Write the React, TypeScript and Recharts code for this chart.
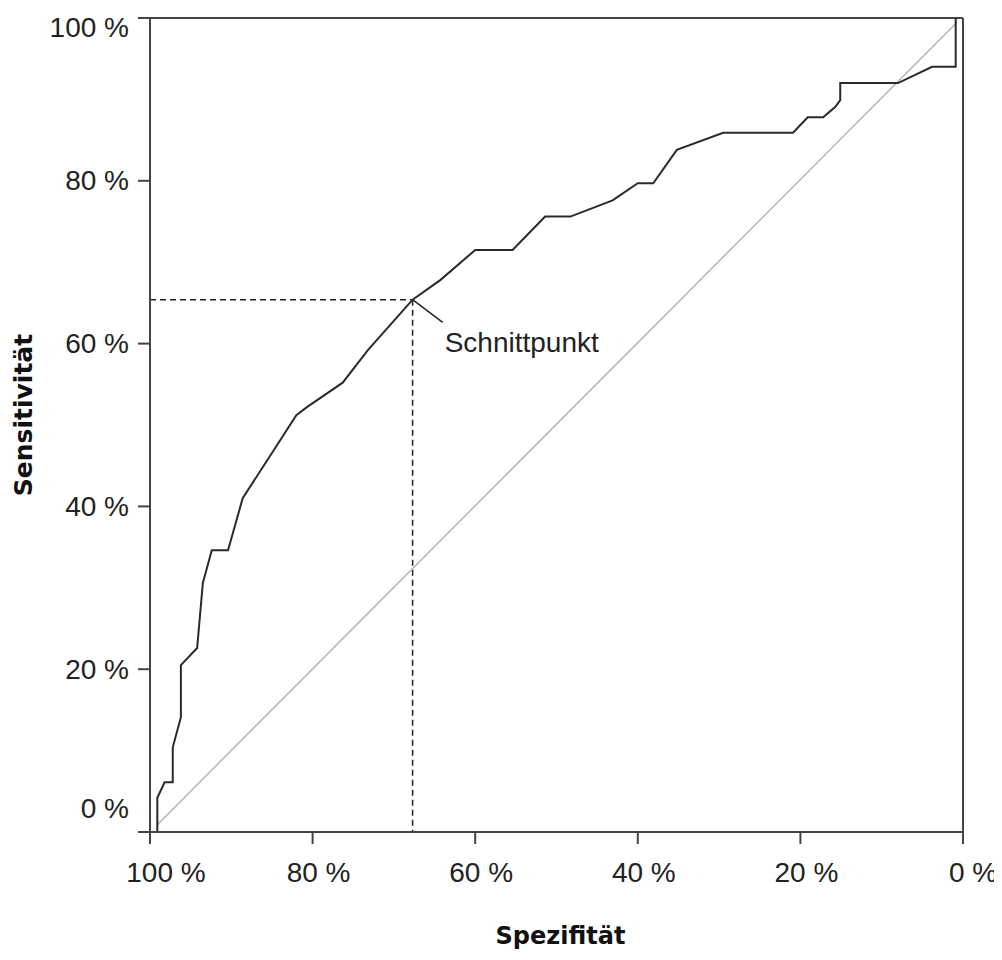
import { ComposedChart, Line, XAxis, YAxis, ReferenceLine, Scatter, Label } from 'recharts';

// ROC curve: spec = Spezifität (%), sens = Sensitivität (%)
const rocSpec = [99.1, 99.1, 98.2, 97.2, 97.2, 96.2, 96.2, 94.2, 93.5, 92.4, 90.4, 88.6, 82.0, 80.7, 76.3, 73.2, 67.7, 64.3, 60.0, 55.4, 51.4, 48.3, 43.1, 40.0, 38.1, 35.2, 29.5, 20.9, 19.1, 17.2, 15.7, 15.1, 15.1, 8.0, 3.8, 0.9, 0.9];
const rocSens = [0, 4.2, 6.1, 6.1, 10.4, 14.1, 20.5, 22.6, 30.6, 34.6, 34.6, 41.0, 51.2, 52.2, 55.2, 59.2, 65.4, 67.8, 71.5, 71.5, 75.6, 75.6, 77.6, 79.7, 79.7, 83.8, 85.9, 85.9, 87.8, 87.8, 89.1, 89.9, 92.0, 92.0, 94.0, 94.0, 100];

// reference diagonal
const diagSpec = [99.1, 0.7];
const diagSens = [0.9, 99.5];

// cut point
const cutSpec = 67.7;
const cutSens = 65.4;
const noteSpec = 64.0;
const noteSens = 62.6;
const noteText = 'Schnittpunkt';

const ticks = [0, 20, 40, 60, 80, 100];

const rocData = rocSpec.map((s, i) => ({ spec: s, sens: rocSens[i] }));
const diagData = diagSpec.map((s, i) => ({ spec: s, sens: diagSens[i] }));
const noteData = [{ spec: noteSpec, sens: noteSens }];

const tickFont = '"Liberation Sans", Arial, sans-serif';
const titleFont = '"DejaVu Sans", Verdana, sans-serif';

const YTick = (props: any) => {
  const { x, y, payload } = props;
  const shift = payload.value === 100 ? 9 : payload.value === 0 ? -24 : 0;
  return (
    <text x={x} y={y + shift} textAnchor="end" dominantBaseline="central" fontSize={28} fontFamily={tickFont} fill="#222">
      {`${payload.value} %`}
    </text>
  );
};

const XTick = (props: any) => {
  const { x, y, payload } = props;
  const shift = payload.value === 100 ? 16 : payload.value === 0 ? 10 : 6;
  return (
    <text x={x + shift} y={y} textAnchor="middle" dominantBaseline="central" fontSize={28} fontFamily={tickFont} fill="#222">
      {`${payload.value} %`}
    </text>
  );
};

const NoteShape = (props: any) => {
  const { cx, cy } = props;
  return (
    <text x={cx + 2} y={cy + 30} fontSize={28} fontFamily={tickFont} fill="#222">
      {noteText}
    </text>
  );
};

export default function App() {
  return (
    <ComposedChart width={994} height={944} margin={{ top: 10, right: 39, bottom: 0, left: 0 }}>
      <XAxis
        type="number"
        dataKey="spec"
        domain={[0, 100]}
        ticks={ticks}
        reversed
        height={120}
        tickSize={12}
        tickMargin={28}
        tick={<XTick />}
        axisLine={{ stroke: '#444', strokeWidth: 2 }}
        tickLine={{ stroke: '#444', strokeWidth: 2 }}
      >
        <Label
          content={(p: any) => {
            const vb = p.viewBox;
            return (
              <text x={vb.x + vb.width / 2 + 4} y={vb.y + 104} textAnchor="middle" dominantBaseline="central" fontSize={24} fontWeight="bold" fontFamily={titleFont} fill="#111">
                Spezifität
              </text>
            );
          }}
        />
      </XAxis>
      <YAxis
        type="number"
        dataKey="sens"
        domain={[0, 100]}
        ticks={ticks}
        width={142}
        tickSize={12}
        tickMargin={9}
        tick={<YTick />}
        axisLine={{ stroke: '#444', strokeWidth: 2 }}
        tickLine={{ stroke: '#444', strokeWidth: 2 }}
      >
        <Label
          content={(p: any) => {
            const vb = p.viewBox;
            const cx = vb.x + 15;
            const cy = vb.y + vb.height / 2 - 10;
            return (
              <text x={cx} y={cy} transform={`rotate(-90 ${cx} ${cy})`} textAnchor="middle" dominantBaseline="central" fontSize={25} fontWeight="bold" fontFamily={titleFont} fill="#111">
                Sensitivität
              </text>
            );
          }}
        />
      </YAxis>
      <ReferenceLine y={100} stroke="#444" strokeWidth={2} />
      <ReferenceLine x={0} stroke="#444" strokeWidth={2} />
      <ReferenceLine
        segment={[{ x: 100, y: cutSens }, { x: cutSpec, y: cutSens }]}
        stroke="#222"
        strokeWidth={1.5}
        strokeDasharray="6 4"
      />
      <ReferenceLine
        segment={[{ x: cutSpec, y: cutSens }, { x: cutSpec, y: 0 }]}
        stroke="#222"
        strokeWidth={1.5}
        strokeDasharray="6 4"
      />
      <ReferenceLine
        segment={[{ x: cutSpec, y: cutSens }, { x: noteSpec, y: noteSens }]}
        stroke="#222"
        strokeWidth={1.5}
      />
      <Line data={diagData} dataKey="sens" type="linear" stroke="#b5b5b5" strokeWidth={1.5} dot={false} isAnimationActive={false} />
      <Line data={rocData} dataKey="sens" type="linear" stroke="#2a2a2a" strokeWidth={2} dot={false} isAnimationActive={false} />
      <Scatter data={noteData} dataKey="sens" shape={<NoteShape />} isAnimationActive={false} />
    </ComposedChart>
  );
}
